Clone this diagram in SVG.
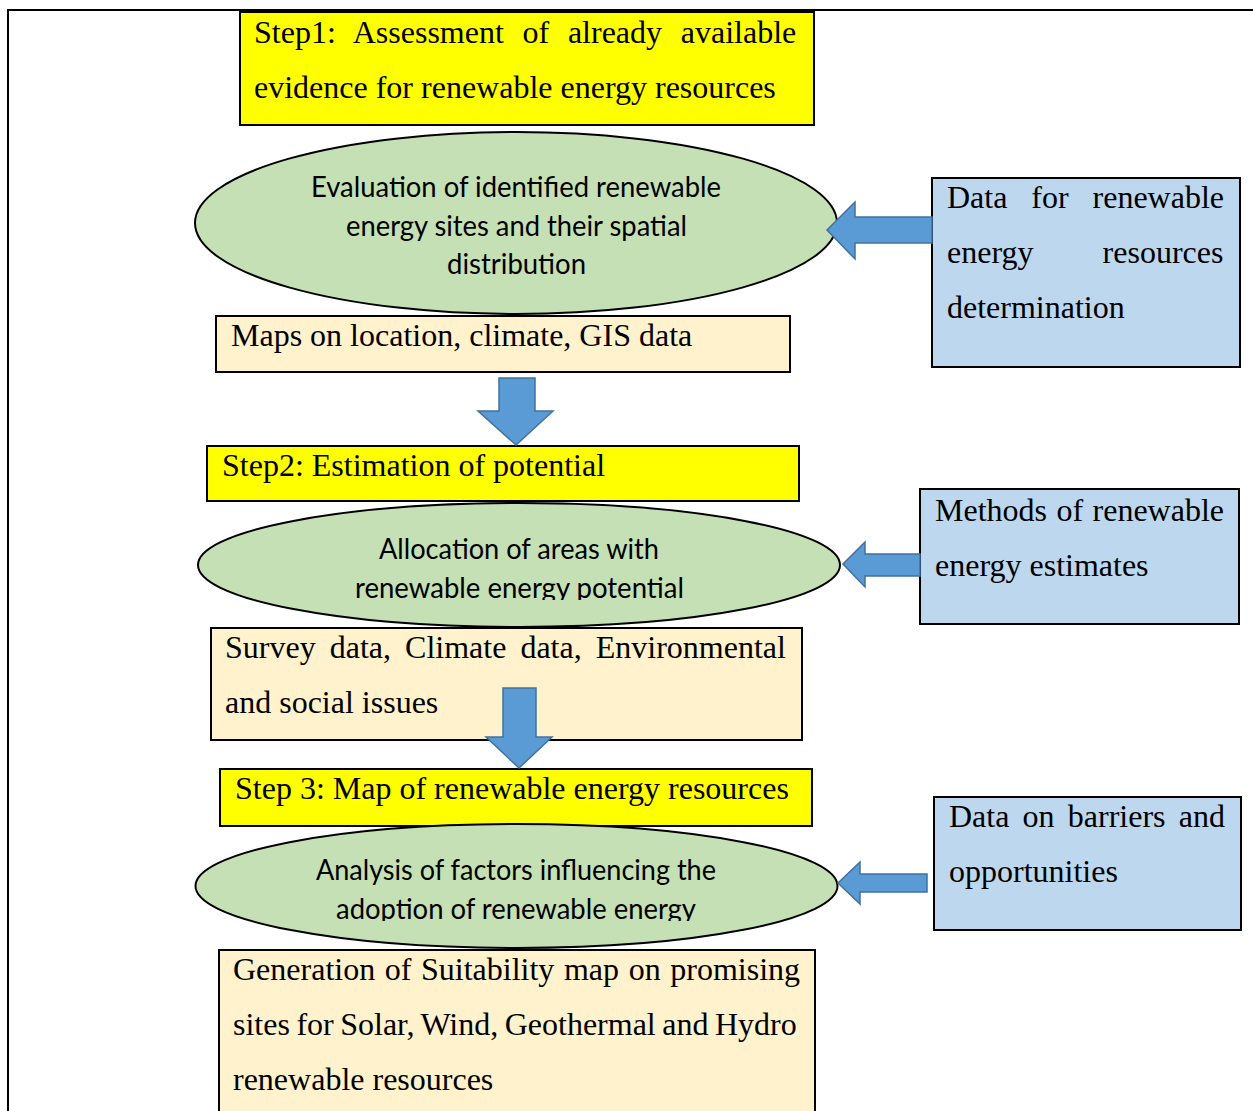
<svg xmlns="http://www.w3.org/2000/svg" width="1253" height="1111" viewBox="0 0 1253 1111">
<style>
.frame{fill:none;stroke:#000;stroke-width:2}
.step{fill:#FFFF00;stroke:#000;stroke-width:2}
.data{fill:#FFF2CC;stroke:#000;stroke-width:2}
.side{fill:#BDD7EE;stroke:#000;stroke-width:2}
.ell{fill:#C5E0B4;stroke:#000;stroke-width:2}
.arrow{fill:#5B9BD5;stroke:#41719C;stroke-width:1.5;stroke-linejoin:miter}
.t{font-family:"Liberation Serif","Times New Roman",serif;font-size:32px;fill:#000}
.c{font-family:Lato,"Open Sans","Liberation Sans",sans-serif;font-size:28px;fill:#000;text-anchor:middle}
</style>
<defs>
<clipPath id="clip2"><rect x="190" y="500" width="660" height="100"/></clipPath>
<clipPath id="clip3"><rect x="190" y="820" width="660" height="101"/></clipPath>
</defs>
<rect x="0" y="0" width="1253" height="1111" fill="#fff"/>
<rect class="frame" x="8" y="10" width="1270" height="1120"/>

<g id="step1">
<rect class="step" x="240" y="12" width="574" height="113"/>
<text class="t" x="254" y="43" word-spacing="10.7">Step1: Assessment of already available</text>
<text class="t" x="254" y="98">evidence for renewable energy resources</text>
</g>

<g id="maps">
<rect class="data" x="216" y="316" width="574" height="56"/>
<text class="t" x="231" y="346">Maps on location, climate, GIS data</text>
</g>

<g id="eval">
<ellipse class="ell" cx="516" cy="223" rx="321" ry="91"/>
<text class="c" x="516" y="197" textLength="410" lengthAdjust="spacingAndGlyphs">Evaluation of identified renewable</text>
<text class="c" x="516.5" y="236" textLength="341" lengthAdjust="spacingAndGlyphs">energy sites and their spatial</text>
<text class="c" x="516.5" y="274" textLength="139" lengthAdjust="spacingAndGlyphs">distribution</text>
</g>

<g id="data1">
<rect class="side" x="932" y="178" width="308" height="189"/>
<text class="t" x="947" y="208" word-spacing="15.9">Data for renewable</text>
<text class="t" x="947" y="263" word-spacing="61.1">energy resources</text>
<text class="t" x="947" y="318">determination</text>
</g>

<g id="step2">
<rect class="step" x="207" y="446" width="592" height="55"/>
<text class="t" x="222" y="476">Step2: Estimation of potential</text>
</g>

<g id="survey">
<rect class="data" x="211" y="628" width="591" height="112"/>
<text class="t" x="225" y="658" word-spacing="6.05">Survey data, Climate data, Environmental</text>
<text class="t" x="225" y="713">and social issues</text>
</g>

<g id="alloc">
<ellipse class="ell" cx="519" cy="565" rx="321" ry="62"/>
<g clip-path="url(#clip2)">
<text class="c" x="519" y="559" textLength="280" lengthAdjust="spacingAndGlyphs">Allocation of areas with</text>
<text class="c" x="519.5" y="598" textLength="329" lengthAdjust="spacingAndGlyphs">renewable energy potential</text>
</g>
</g>

<g id="methods">
<rect class="side" x="920" y="489" width="319" height="135"/>
<text class="t" x="935" y="521" word-spacing="1.45">Methods of renewable</text>
<text class="t" x="935" y="576">energy estimates</text>
</g>

<g id="step3">
<rect class="step" x="220" y="769" width="592" height="57"/>
<text class="t" x="235" y="799">Step 3: Map of renewable energy resources</text>
</g>

<g id="generation">
<rect class="data" x="219" y="950" width="596" height="170"/>
<text class="t" x="233" y="980" word-spacing="1.6">Generation of Suitability map on promising</text>
<text class="t" x="233" y="1035" word-spacing="-1.5">sites for Solar, Wind, Geothermal and Hydro</text>
<text class="t" x="233" y="1090">renewable resources</text>
</g>

<g id="analysis">
<ellipse class="ell" cx="516.5" cy="886" rx="321" ry="62"/>
<g clip-path="url(#clip3)">
<text class="c" x="516" y="880" textLength="400" lengthAdjust="spacingAndGlyphs">Analysis of factors influencing the</text>
<text class="c" x="516" y="919" textLength="360" lengthAdjust="spacingAndGlyphs">adoption of renewable energy</text>
</g>
</g>

<g id="barriers">
<rect class="side" x="934" y="797" width="307" height="133"/>
<text class="t" x="949" y="827" word-spacing="5.2">Data on barriers and</text>
<text class="t" x="949" y="882">opportunities</text>
</g>

<g id="connectors">
<path class="arrow" d="M932,217 L855,217 L855,202 L827,230 L855,259 L855,243 L932,243 Z"/>
<path class="arrow" d="M920,554 L865,554 L865,542 L843,564 L865,587 L865,576 L920,576 Z"/>
<path class="arrow" d="M927,874 L860,874 L860,862 L838,883 L860,904 L860,892 L927,892 Z"/>
<path class="arrow" d="M499,378 L535,378 L535,411 L553,411 L516,445 L478,411 L499,411 Z"/>
<path class="arrow" d="M503,688 L536,688 L536,737 L552,737 L519,768 L486,737 L503,737 Z"/>
</g>
</svg>
